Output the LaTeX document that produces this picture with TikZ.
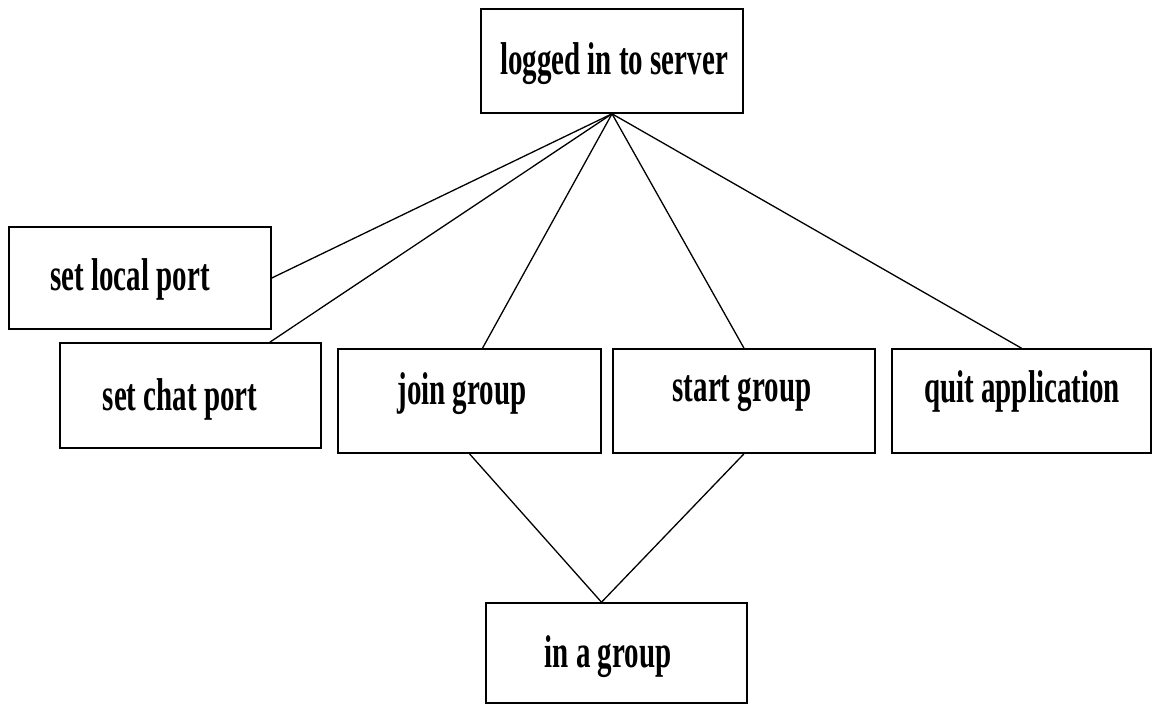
\documentclass[tikz,border=0pt]{standalone}
\usepackage{fontspec}
\setmainfont{Liberation Serif}[FakeStretch=0.63]

\begin{document}
\begin{tikzpicture}[x=1pt,y=-1pt,
  statebox/.style={draw=black, line width=1.6pt, inner sep=0pt,
    minimum width=262pt, minimum height=104pt},
  lbl/.style={anchor=base, inner sep=0pt,
    font=\fontsize{46}{50}\selectfont\bfseries},
  link/.style={draw=black, line width=1.3pt}]

\useasboundingbox (0,0) rectangle (1152,706);

% state boxes
\node[statebox] (srv)   at (612,61)     {};
\node[statebox, minimum height=102pt] (local) at (140,278) {};
\node[statebox, minimum width=261pt, minimum height=105pt] (chat) at (190.5,395.5) {};
\node[statebox, minimum width=263pt] (join)  at (469.5,401) {};
\node[statebox] (start) at (744,401)   {};
\node[statebox, minimum width=259pt] (quit)  at (1021.5,401) {};
\node[statebox, minimum width=261pt, minimum height=100pt] (grp) at (616.5,653) {};

% box captions
\node[lbl] (tsrv)   at (614,75)   {logged in to server};
\node[lbl] (tlocal) at (130,290)  {set local port};
\node[lbl] (tchat)  at (180,410)  {set chat port};
\node[lbl] (tjoin)  at (462,404)  {join group};
\node[lbl] (tstart) at (742,401)  {start group};
\node[lbl] (tquit)  at (1022,402) {quit application};
\node[lbl] (tgrp)   at (608,667)  {in a group};

% transitions
\draw[link] (srv.south) -- (local.east);
\draw[link] (srv.south) -- ([xshift=-52pt]chat.north east);
\draw[link] (srv.south) -- ([xshift=13pt]join.north);
\draw[link] (srv.south) -- (start.north);
\draw[link] (srv.south) -- (quit.north);
\draw[link] (join.south) -- ([xshift=-15pt]grp.north);
\draw[link] (start.south) -- ([xshift=-15pt]grp.north);
\end{tikzpicture}
\end{document}
